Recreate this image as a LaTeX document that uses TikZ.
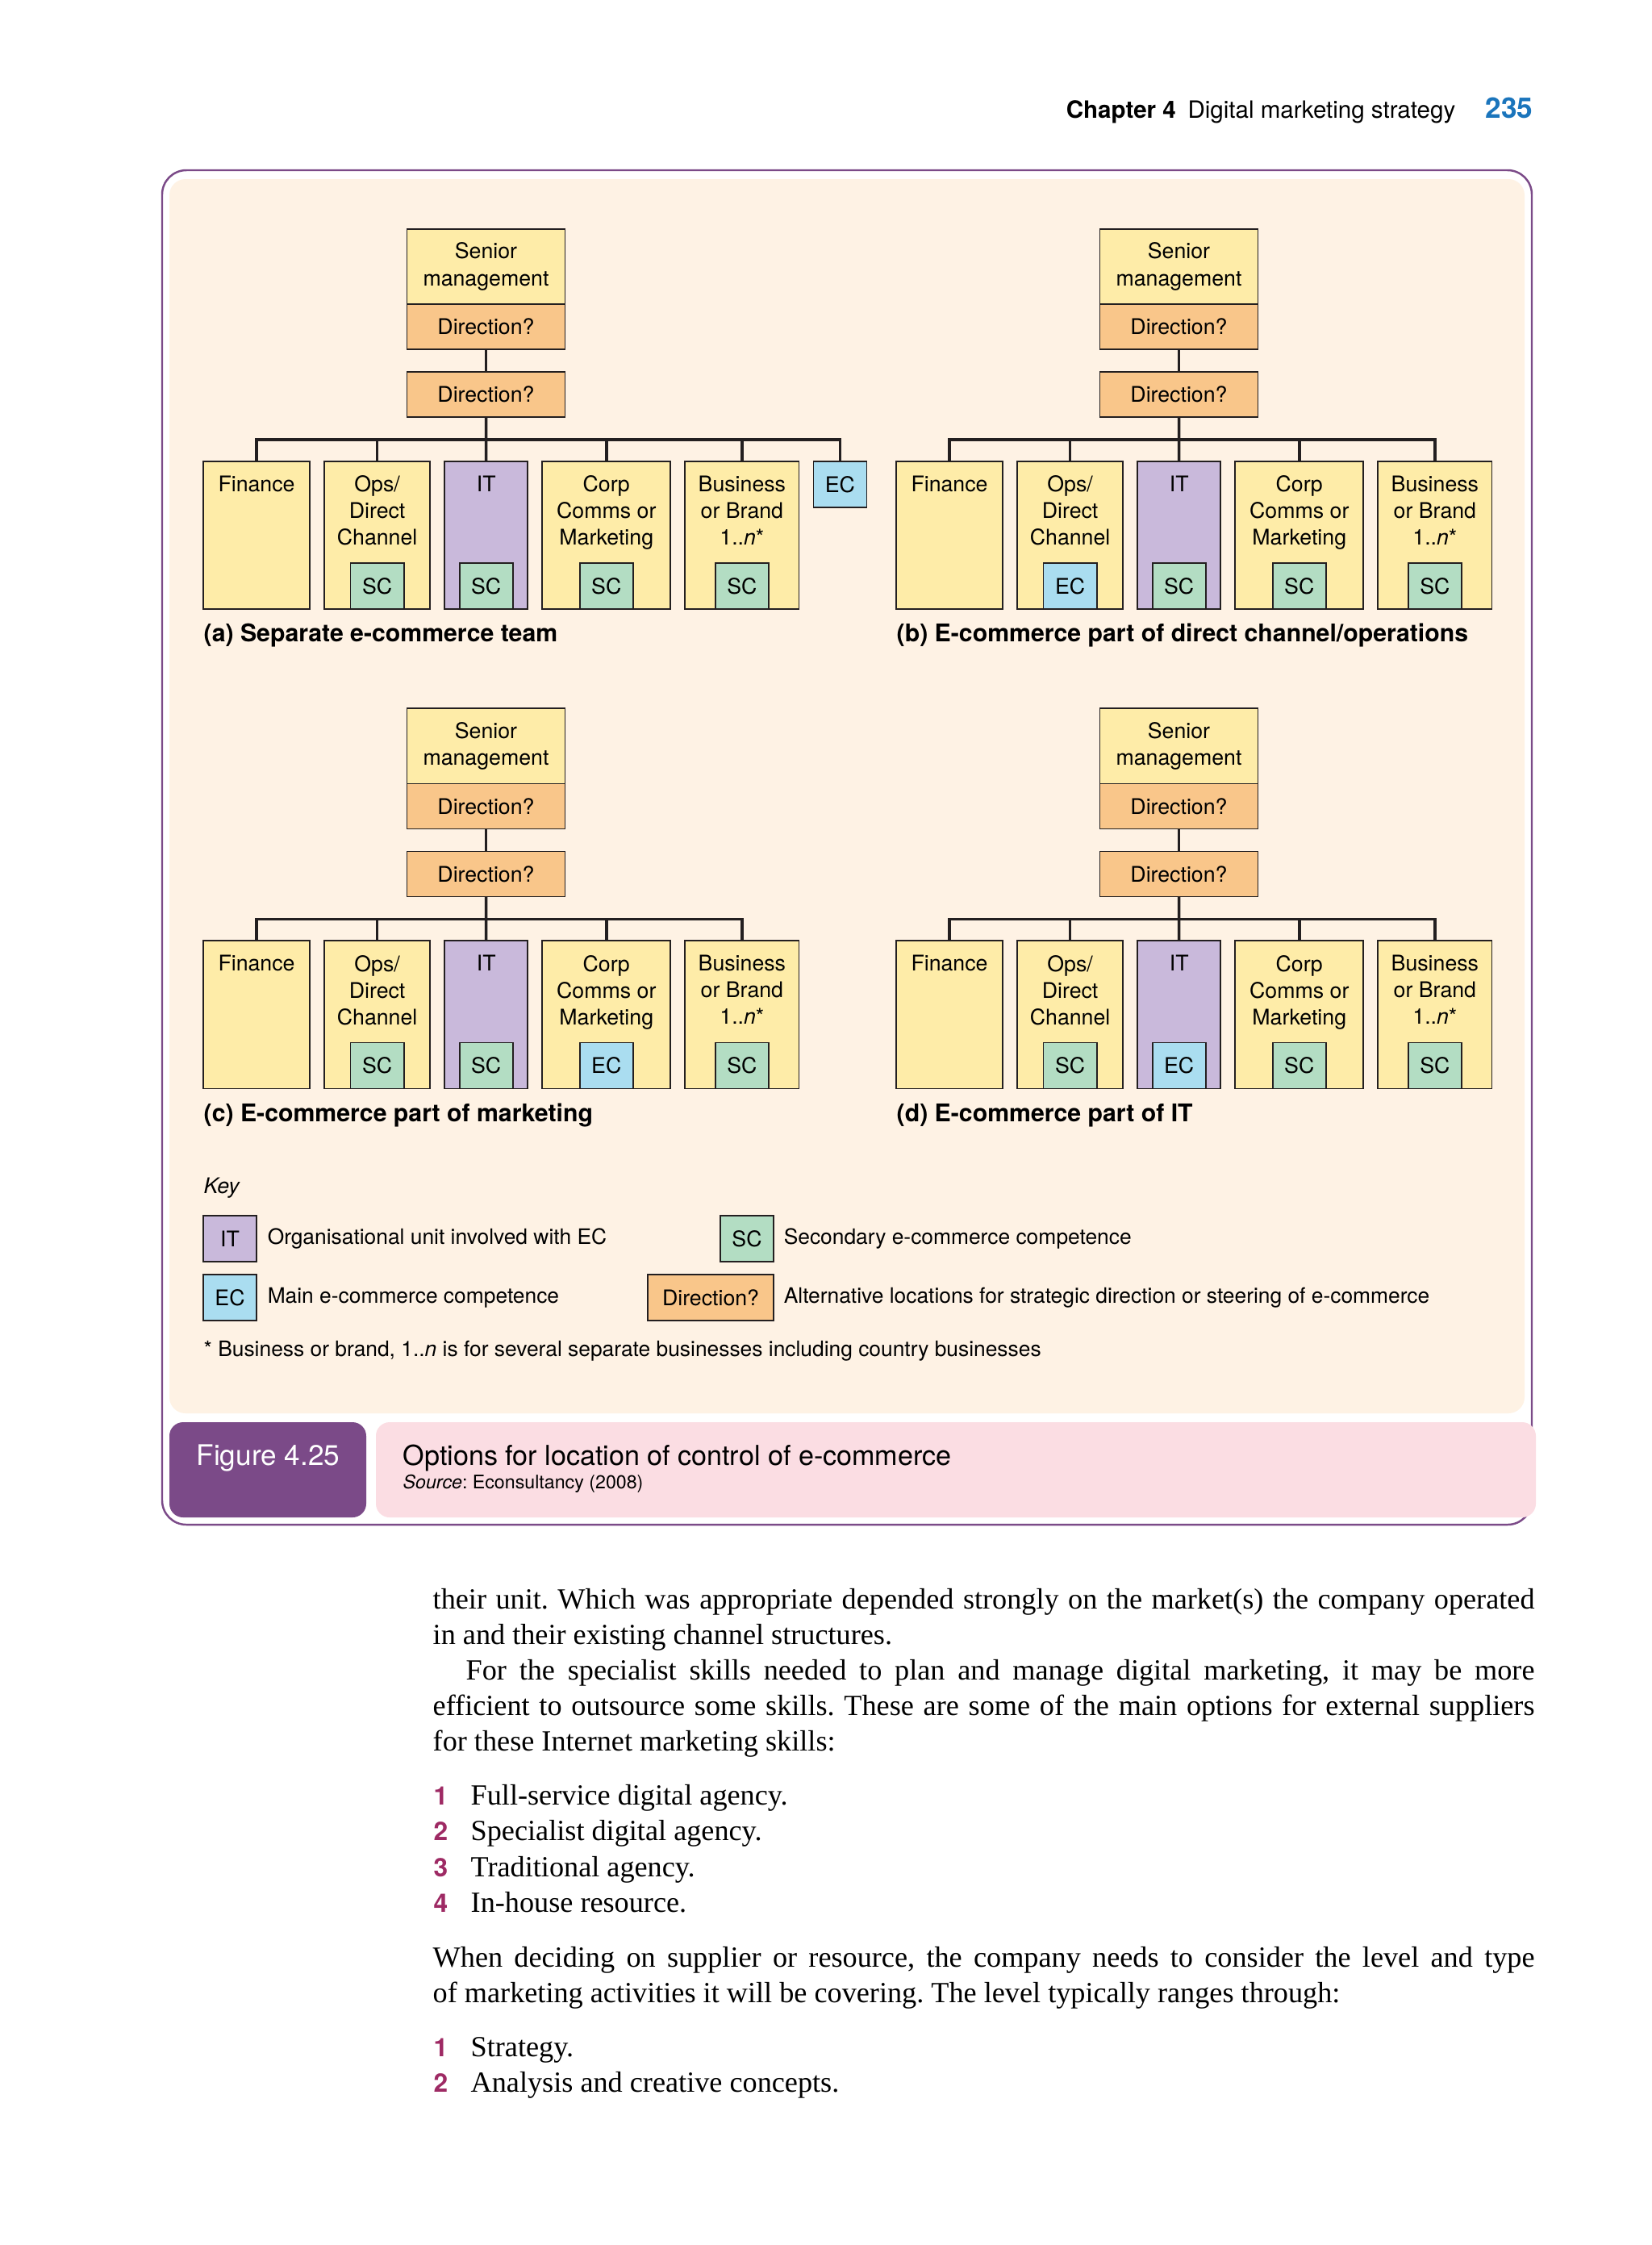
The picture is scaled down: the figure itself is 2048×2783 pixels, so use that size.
\documentclass[tikz,border=0pt]{standalone}
\usepackage{fontspec}
\setmainfont{TeX Gyre Heros}
\newfontfamily\bodyfont{Liberation Serif}
\usepackage{xcolor}
\usetikzlibrary{positioning}
\frenchspacing

\definecolor{unityellow}{HTML}{FEECA8}
\definecolor{dirorange}{HTML}{F9C68A}
\definecolor{itpurple}{HTML}{C9B9DB}
\definecolor{scgreen}{HTML}{B3DDC3}
\definecolor{ecblue}{HTML}{AADDF0}
\definecolor{panelcream}{HTML}{FEF2E4}
\definecolor{figpurple}{HTML}{7B4A88}
\definecolor{captionpink}{HTML}{FBDDE3}
\definecolor{pageblue}{HTML}{1B75BC}
\definecolor{listred}{HTML}{9E2A64}
\definecolor{inkline}{HTML}{231F20}

\begin{document}
\begin{tikzpicture}[
  x=0.01cm, y=-0.01cm,
  node distance=0.28cm and 0.18cm,
  box/.style={draw=inkline, line width=0.5pt, inner sep=0pt, outer sep=0pt, align=center, font=\fontsize{7.6}{9.5}\selectfont},
  senior/.style={box, fill=unityellow, minimum width=1.96cm, minimum height=0.93cm},
  direction/.style={box, fill=dirorange, minimum width=1.96cm, minimum height=0.56cm},
  unit/.style={box, fill=unityellow, minimum height=1.83cm, label={[anchor=north, yshift=-0.17cm, align=center, inner sep=0pt, font=\fontsize{7.6}{9.4}\selectfont]north:#1}},
  sc/.style={box, fill=scgreen, minimum width=0.66cm, minimum height=0.57cm},
  ec/.style={box, fill=ecblue, minimum width=0.66cm, minimum height=0.57cm},
  link/.style={draw=inkline, line width=1pt},
  panelcaption/.style={anchor=west, inner sep=0pt, font=\bfseries\fontsize{8.6}{10}\selectfont},
  keytext/.style={anchor=west, inner sep=0pt, font=\fontsize{7.5}{9}\selectfont},
  bodyline/.style={anchor=base west, inner sep=0pt, font=\bodyfont\fontsize{10.3}{12.5}\selectfont},
  listnum/.style={anchor=base west, inner sep=0pt, text=listred, font=\bfseries\fontsize{9}{11}\selectfont}
]
\fill[white] (0,0) rectangle (2048,2783);
\useasboundingbox (0,0) rectangle (2048,2783);

% running head
\node[anchor=base east, inner sep=0pt, font=\fontsize{8.4}{10}\selectfont] (runhead) at (1805,146) {\textbf{Chapter 4}\enspace Digital marketing strategy};
\node[anchor=base east, inner sep=0pt, text=pageblue, font=\bfseries\fontsize{10}{12}\selectfont] (pagenum) at (1901,146) {235};

% figure frame
\draw[figpurple, line width=0.7pt, rounded corners=0.3cm] (201,211) rectangle (1899,1890);
\fill[panelcream, rounded corners=0.2cm] (210,222) rectangle (1890,1752);

% (a) separate e-commerce team
\node[senior, anchor=north] (aSen) at (602.5,284) {Senior\\management};
\node[direction, below=0pt of aSen] (aDirTop) {Direction?};
\node[direction, below=of aDirTop] (aDir) {Direction?};
\node[unit=Finance, minimum width=1.32cm, anchor=north west] (aFin) at (252,572) {};
\node[unit={Ops/\\Direct\\Channel}, minimum width=1.31cm, right=of aFin] (aOps) {};
\node[unit=IT, fill=itpurple, minimum width=1.03cm, right=of aOps] (aIT) {};
\node[unit={Corp\\Comms or\\Marketing}, minimum width=1.59cm, right=of aIT] (aCorp) {};
\node[unit={Business\\or Brand\\1..\textit{n}*}, minimum width=1.41cm, right=of aCorp] (aBrand) {};
\node[ec, right=of aBrand.north east, anchor=north west] (aEC) {EC};
\node[sc, anchor=south] (aOpsSC) at (aOps.south) {SC};
\node[sc, anchor=south] (aITSC) at (aIT.south) {SC};
\node[sc, anchor=south] (aCorpSC) at (aCorp.south) {SC};
\node[sc, anchor=south] (aBrandSC) at (aBrand.south) {SC};
\coordinate (aBus) at (602.5,545);
\draw[link] (aDirTop) -- (aDir);
\draw[link] (aDir) -- (aIT);
\draw[link] (aFin) |- (aBus) -| (aEC);
\draw[link] (aOps) -- (aOps |- aBus) (aCorp) -- (aCorp |- aBus) (aBrand) -- (aBrand |- aBus);
\node[panelcaption] (aCaption) at (252,788) {(a) Separate e-commerce team};

% (b) e-commerce part of direct channel/operations
\begin{scope}[xshift=8.585cm]
\node[senior, anchor=north] (bSen) at (602.5,284) {Senior\\management};
\node[direction, below=0pt of bSen] (bDirTop) {Direction?};
\node[direction, below=of bDirTop] (bDir) {Direction?};
\node[unit=Finance, minimum width=1.32cm, anchor=north west] (bFin) at (252,572) {};
\node[unit={Ops/\\Direct\\Channel}, minimum width=1.31cm, right=of bFin] (bOps) {};
\node[unit=IT, fill=itpurple, minimum width=1.03cm, right=of bOps] (bIT) {};
\node[unit={Corp\\Comms or\\Marketing}, minimum width=1.59cm, right=of bIT] (bCorp) {};
\node[unit={Business\\or Brand\\1..\textit{n}*}, minimum width=1.41cm, right=of bCorp] (bBrand) {};
\node[ec, anchor=south] (bOpsEC) at (bOps.south) {EC};
\node[sc, anchor=south] (bITSC) at (bIT.south) {SC};
\node[sc, anchor=south] (bCorpSC) at (bCorp.south) {SC};
\node[sc, anchor=south] (bBrandSC) at (bBrand.south) {SC};
\coordinate (bBus) at (602.5,545);
\draw[link] (bDirTop) -- (bDir);
\draw[link] (bDir) -- (bIT);
\draw[link] (bFin) |- (bBus) -| (bBrand);
\draw[link] (bOps) -- (bOps |- bBus) (bCorp) -- (bCorp |- bBus);
\node[panelcaption] (bCaption) at (252,788) {(b) E-commerce part of direct channel/operations};
\end{scope}

% (c) e-commerce part of marketing
\begin{scope}[yshift=-5.94cm]
\node[senior, anchor=north] (cSen) at (602.5,284) {Senior\\management};
\node[direction, below=0pt of cSen] (cDirTop) {Direction?};
\node[direction, below=of cDirTop] (cDir) {Direction?};
\node[unit=Finance, minimum width=1.32cm, anchor=north west] (cFin) at (252,572) {};
\node[unit={Ops/\\Direct\\Channel}, minimum width=1.31cm, right=of cFin] (cOps) {};
\node[unit=IT, fill=itpurple, minimum width=1.03cm, right=of cOps] (cIT) {};
\node[unit={Corp\\Comms or\\Marketing}, minimum width=1.59cm, right=of cIT] (cCorp) {};
\node[unit={Business\\or Brand\\1..\textit{n}*}, minimum width=1.41cm, right=of cCorp] (cBrand) {};
\node[sc, anchor=south] (cOpsSC) at (cOps.south) {SC};
\node[sc, anchor=south] (cITSC) at (cIT.south) {SC};
\node[ec, anchor=south] (cCorpEC) at (cCorp.south) {EC};
\node[sc, anchor=south] (cBrandSC) at (cBrand.south) {SC};
\coordinate (cBus) at (602.5,545);
\draw[link] (cDirTop) -- (cDir);
\draw[link] (cDir) -- (cIT);
\draw[link] (cFin) |- (cBus) -| (cBrand);
\draw[link] (cOps) -- (cOps |- cBus) (cCorp) -- (cCorp |- cBus);
\node[panelcaption] (cCaption) at (252,788) {(c) E-commerce part of marketing};
\end{scope}

% (d) e-commerce part of IT
\begin{scope}[xshift=8.585cm, yshift=-5.94cm]
\node[senior, anchor=north] (dSen) at (602.5,284) {Senior\\management};
\node[direction, below=0pt of dSen] (dDirTop) {Direction?};
\node[direction, below=of dDirTop] (dDir) {Direction?};
\node[unit=Finance, minimum width=1.32cm, anchor=north west] (dFin) at (252,572) {};
\node[unit={Ops/\\Direct\\Channel}, minimum width=1.31cm, right=of dFin] (dOps) {};
\node[unit=IT, fill=itpurple, minimum width=1.03cm, right=of dOps] (dIT) {};
\node[unit={Corp\\Comms or\\Marketing}, minimum width=1.59cm, right=of dIT] (dCorp) {};
\node[unit={Business\\or Brand\\1..\textit{n}*}, minimum width=1.41cm, right=of dCorp] (dBrand) {};
\node[sc, anchor=south] (dOpsSC) at (dOps.south) {SC};
\node[ec, anchor=south] (dITEC) at (dIT.south) {EC};
\node[sc, anchor=south] (dCorpSC) at (dCorp.south) {SC};
\node[sc, anchor=south] (dBrandSC) at (dBrand.south) {SC};
\coordinate (dBus) at (602.5,545);
\draw[link] (dDirTop) -- (dDir);
\draw[link] (dDir) -- (dIT);
\draw[link] (dFin) |- (dBus) -| (dBrand);
\draw[link] (dOps) -- (dOps |- dBus) (dCorp) -- (dCorp |- dBus);
\node[panelcaption] (dCaption) at (252,788) {(d) E-commerce part of IT};
\end{scope}

% key
\node[anchor=west, inner sep=0pt, font=\itshape\fontsize{7.6}{9}\selectfont] (keyTitle) at (252,1473) {Key};
\node[box, fill=itpurple, minimum width=0.66cm, minimum height=0.57cm, anchor=north west] (keyIT) at (252,1507) {IT};
\node[keytext, right=0.13cm of keyIT] (keyITtext) {Organisational unit involved with EC};
\node[sc, anchor=north west] (keySC) at (893,1507) {SC};
\node[keytext, right=0.12cm of keySC] (keySCtext) {Secondary e-commerce competence};
\node[ec, anchor=north west] (keyEC) at (252,1580) {EC};
\node[keytext, right=0.13cm of keyEC] (keyECtext) {Main e-commerce competence};
\node[direction, minimum width=1.56cm, minimum height=0.57cm, anchor=north west] (keyDir) at (803,1580) {Direction?};
\node[keytext, right=0.12cm of keyDir] (keyDirtext) {Alternative locations for strategic direction or steering of e-commerce};
\node[keytext] (footnote) at (252,1675) {* Business or brand, 1..\textit{n} is for several separate businesses including country businesses};

% caption bar
\fill[figpurple, rounded corners=0.17cm] (210,1763) rectangle (454,1881);
\node[anchor=west, inner sep=0pt, text=white, font=\fontsize{10}{12}\selectfont] (figNum) at (243,1807) {Figure 4.25};
\fill[captionpink, rounded corners=0.17cm] (466,1763) rectangle (1904,1881);
\node[anchor=west, inner sep=0pt, font=\fontsize{9.7}{11}\selectfont] (figTitle) at (499,1807) {Options for location of control of e-commerce};
\node[anchor=west, inner sep=0pt, font=\fontsize{6.6}{8}\selectfont] (figSource) at (499,1839) {\textit{Source}: Econsultancy (2008)};

% body text
\node[bodyline] (body1) at (536,1994) {\hbox to 13.65cm{their unit. Which was appropriate depended strongly on the market(s) the company operated}};
\node[bodyline] (body2) at (536,2038) {in and their existing channel structures.};
\node[bodyline] (body3) at (577,2082) {\hbox to 13.24cm{For the specialist skills needed to plan and manage digital marketing, it may be more}};
\node[bodyline] (body4) at (536,2126) {\hbox to 13.65cm{efficient to outsource some skills. These are some of the main options for external suppliers}};
\node[bodyline] (body5) at (536,2170) {for these Internet marketing skills:};
\node[listnum] (num1) at (537,2237) {1};
\node[bodyline] (item1) at (583,2237) {Full-service digital agency.};
\node[listnum] (num2) at (537,2281) {2};
\node[bodyline] (item2) at (583,2281) {Specialist digital agency.};
\node[listnum] (num3) at (537,2326) {3};
\node[bodyline] (item3) at (583,2326) {Traditional agency.};
\node[listnum] (num4) at (537,2370) {4};
\node[bodyline] (item4) at (583,2370) {In-house resource.};
\node[bodyline] (body6) at (536,2438) {\hbox to 13.65cm{When deciding on supplier or resource, the company needs to consider the level and type}};
\node[bodyline] (body7) at (536,2482) {of marketing activities it will be covering. The level typically ranges through:};
\node[listnum] (num5) at (537,2549) {1};
\node[bodyline] (item5) at (583,2549) {Strategy.};
\node[listnum] (num6) at (537,2593) {2};
\node[bodyline] (item6) at (583,2593) {Analysis and creative concepts.};
\end{tikzpicture}
\end{document}
